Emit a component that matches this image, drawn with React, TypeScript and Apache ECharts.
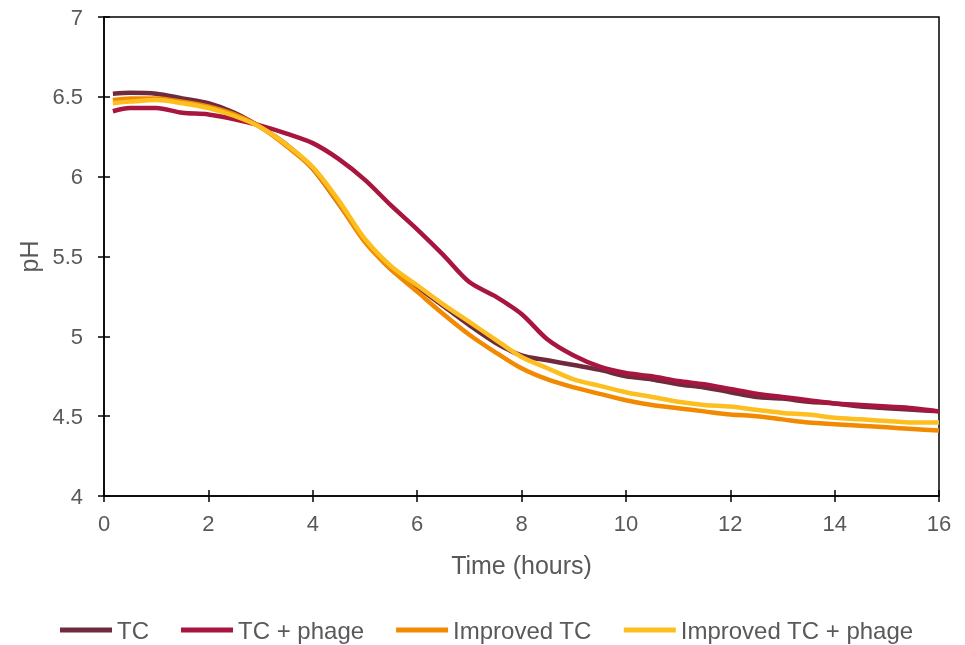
import React, { useEffect, useRef } from "react";
import * as echarts from "echarts";

const hours = [0.17, 0.5, 1, 1.5, 2, 2.5, 3, 3.5, 4, 4.5, 5, 5.5, 6, 6.5, 7, 7.5, 8, 8.5, 9, 9.5, 10, 10.5, 11, 11.5, 12, 12.5, 13, 13.5, 14, 14.5, 15, 15.5, 16];

const tc = [6.52, 6.525, 6.52, 6.49, 6.46, 6.4, 6.31, 6.2, 6.05, 5.83, 5.6, 5.42, 5.31, 5.19, 5.07, 4.96, 4.88, 4.85, 4.82, 4.79, 4.75, 4.73, 4.7, 4.68, 4.65, 4.62, 4.61, 4.59, 4.58, 4.56, 4.55, 4.54, 4.53];
const tcPhage = [6.41, 6.43, 6.43, 6.4, 6.39, 6.36, 6.32, 6.27, 6.21, 6.11, 5.98, 5.82, 5.67, 5.51, 5.34, 5.25, 5.14, 4.98, 4.88, 4.81, 4.77, 4.75, 4.72, 4.7, 4.67, 4.64, 4.62, 4.6, 4.58, 4.57, 4.56, 4.55, 4.53];
const improvedTc = [6.48, 6.49, 6.49, 6.47, 6.44, 6.39, 6.31, 6.19, 6.05, 5.83, 5.59, 5.42, 5.28, 5.14, 5.01, 4.9, 4.8, 4.73, 4.68, 4.64, 4.6, 4.57, 4.55, 4.53, 4.51, 4.5, 4.48, 4.46, 4.45, 4.44, 4.43, 4.42, 4.41];
const improvedTcPhage = [6.46, 6.47, 6.48, 6.46, 6.43, 6.38, 6.31, 6.2, 6.06, 5.85, 5.61, 5.44, 5.32, 5.2, 5.09, 4.98, 4.87, 4.8, 4.73, 4.69, 4.65, 4.62, 4.59, 4.57, 4.56, 4.54, 4.52, 4.51, 4.49, 4.48, 4.47, 4.46, 4.46];

const seriesNames = ["TC", "TC + phage", "Improved TC", "Improved TC + phage"];
const seriesValues = [tc, tcPhage, improvedTc, improvedTcPhage];
const seriesColors = ["#702A3E", "#A8163F", "#F18A00", "#FDBF1F"];

const textColor = "#595959";
const font = "'Liberation Sans', Arial, sans-serif";

export default function App() {
  const ref = useRef<HTMLDivElement>(null);
  useEffect(() => {
    if (!ref.current) return;
    const chart = echarts.init(ref.current, null, { renderer: "svg" });
    const tickStyle = { color: "#000", width: 1.5 };
    chart.setOption({
      animation: false,
      textStyle: { fontFamily: font },
      grid: {
        left: 104,
        right: 26,
        top: 17,
        bottom: 149,
        show: true,
        borderColor: "#000",
        borderWidth: 1.5,
        backgroundColor: "transparent",
      },
      legend: {
        top: 613,
        left: 55,
        icon: "rect",
        itemWidth: 52,
        itemHeight: 5,
        itemGap: 32,
        textStyle: { color: textColor, fontSize: 24, fontFamily: font },
        data: seriesNames,
      },
      xAxis: [
        {
          type: "value",
          min: 0,
          max: 16,
          interval: 2,
          position: "bottom",
          name: "Time (hours)",
          nameLocation: "middle",
          nameGap: 56,
          nameTextStyle: { color: textColor, fontSize: 25, fontFamily: font },
          axisLine: { show: true, lineStyle: tickStyle },
          axisTick: { show: true, inside: false, length: 6, lineStyle: tickStyle },
          axisLabel: { color: textColor, fontSize: 22, margin: 16, fontFamily: font },
          splitLine: { show: false },
        },
        {
          type: "value",
          min: 0,
          max: 16,
          interval: 2,
          position: "bottom",
          axisLine: { show: false },
          axisTick: { show: true, inside: true, length: 6, lineStyle: tickStyle },
          axisLabel: { show: false },
          splitLine: { show: false },
        },
      ],
      yAxis: [
        {
          type: "value",
          min: 4,
          max: 7,
          interval: 0.5,
          position: "left",
          name: "pH",
          nameLocation: "middle",
          nameGap: 62,
          nameTextStyle: { color: textColor, fontSize: 25, fontFamily: font },
          axisLine: { show: true, lineStyle: tickStyle },
          axisTick: { show: true, inside: false, length: 6, lineStyle: tickStyle },
          axisLabel: { color: textColor, fontSize: 22, margin: 21, fontFamily: font },
          splitLine: { show: false },
        },
        {
          type: "value",
          min: 4,
          max: 7,
          interval: 0.5,
          position: "left",
          axisLine: { show: false },
          axisTick: { show: true, inside: true, length: 6, lineStyle: tickStyle },
          axisLabel: { show: false },
          splitLine: { show: false },
        },
      ],
      series: seriesNames.map((name, i) => ({
        name,
        type: "line",
        xAxisIndex: 0,
        yAxisIndex: 0,
        data: hours.map((h, j) => [h, seriesValues[i][j]]),
        showSymbol: false,
        symbol: "none",
        smooth: 0.3,
        lineStyle: { color: seriesColors[i], width: 4.5 },
        itemStyle: { color: seriesColors[i] },
        z: 2 + i,
      })),
    });
    return () => chart.dispose();
  }, []);
  return (
    <div
      ref={ref}
      style={{ position: "fixed", left: 0, top: 0, width: 965, height: 645 }}
    />
  );
}
